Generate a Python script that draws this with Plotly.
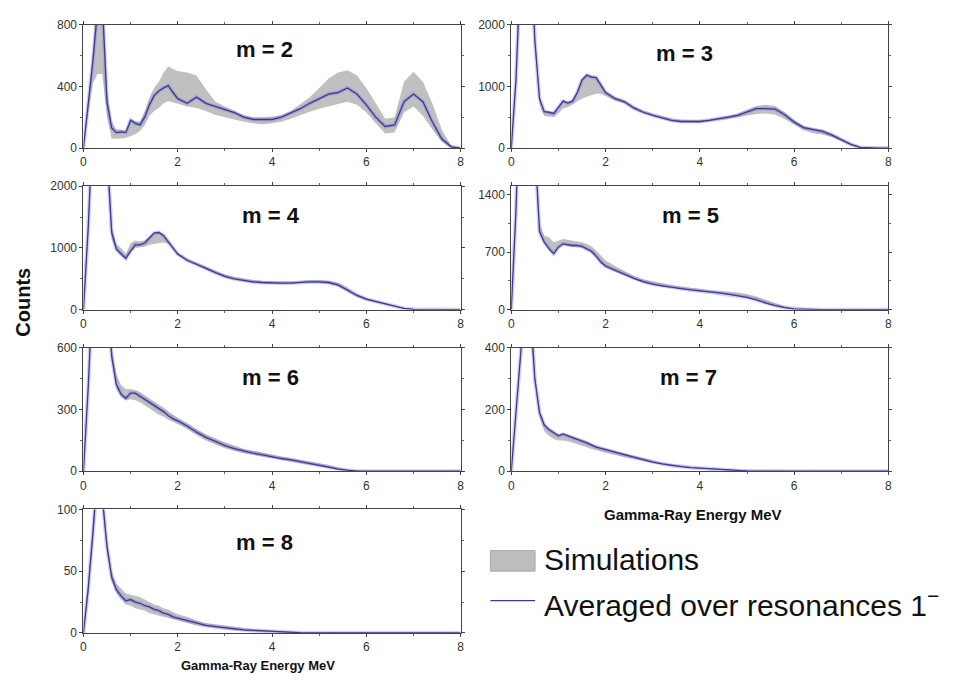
import plotly.graph_objects as go

# ---------------- data ----------------
energy = [0.0, 0.1, 0.2, 0.3, 0.4, 0.5, 0.6, 0.7, 0.8, 0.9, 1.0, 1.1, 1.2, 1.3, 1.4, 1.5, 1.6, 1.7, 1.8, 1.9, 2.0,
          2.2, 2.4, 2.6, 2.8, 3.0, 3.2, 3.4, 3.6, 3.8, 4.0, 4.2, 4.4, 4.6, 4.8, 5.0, 5.2, 5.4, 5.6, 5.8, 6.0,
          6.2, 6.4, 6.6, 6.8, 7.0, 7.2, 7.4, 7.6, 7.8, 8.0]

m2_avg = [0, 280, 560, 900, 950, 300, 130, 100, 105, 100, 180, 160, 150, 200, 280, 340, 370, 390, 405, 360, 320,
          290, 330, 290, 270, 250, 230, 200, 185, 185, 185, 200, 225, 255, 290, 320, 350, 360, 390, 350, 280,
          200, 140, 150, 300, 350, 300, 170, 60, 8, 0]
m2_lo = [0, 220, 420, 480, 480, 200, 60, 60, 62, 65, 75, 90, 110, 150, 210, 240, 260, 290, 305, 300, 290,
         270, 260, 240, 215, 200, 185, 170, 160, 155, 160, 170, 190, 210, 235, 255, 270, 285, 300, 280, 230,
         160, 95, 100, 230, 270, 210, 120, 40, 0, 0]
m2_hi = [0, 300, 620, 1100, 1100, 380, 170, 120, 120, 115, 190, 175, 170, 240, 330, 390, 430, 490, 530, 510, 500,
         490, 470, 380, 300, 270, 245, 215, 200, 200, 205, 215, 240, 285, 330, 390, 450, 490, 505, 470, 390,
         290, 190, 200, 430, 495, 430, 290, 120, 15, 0]

m3_avg = [0, 1100, 3000, 4000, 3500, 1750, 800, 590, 580, 560, 660, 760, 730, 760, 900, 1100, 1180, 1150, 1140, 1030, 900,
          800, 750, 650, 580, 530, 490, 450, 430, 430, 430, 450, 470, 500, 530, 580, 640, 640, 630, 540, 420,
          330, 300, 270, 210, 130, 60, 10, 0, 0, 0]
m3_lo = [0, 1000, 2800, 3800, 3300, 1650, 700, 520, 510, 500, 560, 640, 660, 700, 760, 800, 830, 860, 880, 880, 850,
         770, 720, 620, 560, 510, 470, 430, 410, 410, 410, 430, 450, 470, 490, 520, 550, 560, 540, 470, 380,
         290, 240, 220, 180, 110, 50, 5, 0, 0, 0]
m3_hi = [0, 1200, 3200, 4200, 3700, 1850, 850, 610, 600, 580, 680, 780, 750, 780, 920, 1120, 1200, 1180, 1160, 1060, 930,
         830, 780, 680, 610, 560, 520, 480, 460, 455, 450, 470, 490, 520, 560, 620, 680, 700, 680, 580, 460,
         360, 320, 300, 240, 160, 80, 20, 0, 0, 0]

m4_avg = [0, 1300, 3000, 4500, 4000, 2600, 1250, 980, 900, 830, 950, 1050, 1050, 1080, 1160, 1240, 1250, 1200, 1100, 1000, 900,
          800, 740, 670, 600, 540, 500, 470, 450, 440, 430, 430, 430, 445, 450, 450, 440, 400, 320, 230, 170,
          130, 90, 50, 20, 5, 0, 0, 0, 0, 0]
m4_lo = [0, 1200, 2900, 4400, 3900, 2500, 1150, 950, 870, 820, 930, 1000, 1010, 1020, 1050, 1070, 1080, 1090, 1070, 980, 880,
         780, 720, 650, 580, 520, 480, 450, 430, 420, 415, 415, 415, 430, 435, 430, 420, 380, 300, 210, 155,
         115, 80, 45, 15, 3, 0, 0, 0, 0, 0]
m4_hi = [0, 1400, 3100, 4600, 4100, 2700, 1350, 1060, 1000, 900, 1080, 1120, 1110, 1120, 1180, 1260, 1270, 1230, 1130, 1030, 930,
         830, 770, 700, 630, 570, 530, 500, 480, 465, 455, 455, 455, 470, 480, 480, 470, 440, 360, 260, 190,
         145, 100, 60, 25, 8, 2, 0, 0, 0, 0]

m5_avg = [0, 1200, 3000, 4000, 3500, 2000, 950, 820, 740, 680, 760, 800, 790, 780, 780, 770, 740, 710, 650, 580, 530,
          480, 430, 380, 340, 310, 290, 270, 255, 240, 230, 215, 205, 190, 170, 150, 120, 80, 50, 25, 10,
          4, 1, 0, 0, 0, 0, 0, 0, 0, 0]
m5_lo = [0, 1150, 2900, 3900, 3400, 1900, 930, 810, 730, 670, 750, 790, 770, 760, 760, 750, 720, 690, 630, 560, 510,
         460, 410, 365, 325, 300, 280, 260, 245, 230, 220, 205, 195, 180, 160, 140, 110, 75, 45, 20, 8,
         2, 0, 0, 0, 0, 0, 0, 0, 0, 0]
m5_hi = [0, 1250, 3100, 4100, 3600, 2100, 1050, 900, 880, 820, 840, 860, 850, 840, 830, 820, 800, 770, 720, 660, 600,
         530, 470, 410, 370, 345, 320, 300, 280, 265, 255, 240, 230, 220, 210, 190, 160, 120, 80, 40, 15,
         6, 2, 0, 0, 0, 0, 0, 0, 0, 0]

m6_avg = [0, 400, 900, 1300, 1200, 900, 560, 420, 375, 355, 380, 380, 365, 350, 335, 320, 305, 290, 270, 255, 245,
          220, 190, 165, 145, 125, 110, 98, 88, 80, 70, 62, 55, 47, 38, 28, 20, 10, 4, 1, 0,
          0, 0, 0, 0, 0, 0, 0, 0, 0, 0]
m6_lo = [0, 380, 880, 1280, 1180, 880, 540, 400, 360, 345, 350, 345, 335, 320, 305, 290, 275, 265, 250, 240, 230,
         205, 175, 150, 130, 112, 100, 88, 78, 70, 62, 55, 48, 40, 32, 22, 15, 7, 2, 0, 0,
         0, 0, 0, 0, 0, 0, 0, 0, 0, 0]
m6_hi = [0, 420, 920, 1320, 1220, 920, 600, 470, 420, 400, 400, 395, 385, 370, 355, 340, 325, 310, 290, 275, 260,
         235, 205, 180, 160, 140, 125, 110, 100, 90, 80, 72, 65, 57, 48, 38, 30, 18, 8, 3, 0,
         0, 0, 0, 0, 0, 0, 0, 0, 0, 0]

m7_avg = [0, 180, 380, 600, 550, 300, 190, 150, 135, 125, 115, 120, 115, 110, 105, 98, 92, 85, 78, 74, 70,
          60, 52, 45, 37, 30, 24, 19, 15, 12, 10, 8, 5, 4, 2, 1, 0, 0, 0, 0, 0,
          0, 0, 0, 0, 0, 0, 0, 0, 0, 0]
m7_lo = [0, 170, 370, 590, 540, 290, 175, 130, 115, 105, 100, 100, 97, 92, 88, 83, 78, 72, 67, 64, 60,
         53, 46, 40, 33, 26, 21, 16, 12, 10, 8, 6, 4, 2, 1, 0, 0, 0, 0, 0, 0,
         0, 0, 0, 0, 0, 0, 0, 0, 0, 0]
m7_hi = [0, 190, 390, 610, 560, 310, 200, 155, 140, 130, 120, 125, 120, 115, 110, 103, 97, 90, 83, 79, 75,
         65, 57, 50, 42, 35, 28, 23, 18, 15, 13, 10, 8, 6, 4, 2, 1, 0, 0, 0, 0,
         0, 0, 0, 0, 0, 0, 0, 0, 0, 0]

m8_avg = [0, 35, 80, 130, 110, 70, 45, 35, 30, 26, 27, 25, 24, 22, 21, 19, 18, 16, 15, 13, 12,
          10, 8, 6, 5, 4, 3, 2.5, 2, 1.5, 1, 0.5, 0.3, 0.1, 0, 0, 0, 0, 0, 0, 0,
          0, 0, 0, 0, 0, 0, 0, 0, 0, 0]
m8_lo = [0, 30, 75, 125, 105, 65, 42, 32, 27, 23, 22, 20, 19, 18, 16, 15, 14, 13, 12, 11, 10,
         8, 6, 5, 4, 3, 2, 1.5, 1, 0.8, 0.5, 0.2, 0, 0, 0, 0, 0, 0, 0, 0, 0,
         0, 0, 0, 0, 0, 0, 0, 0, 0, 0]
m8_hi = [0, 40, 90, 135, 115, 75, 50, 40, 36, 32, 31, 30, 29, 27, 25, 23, 22, 20, 19, 17, 15,
         13, 10, 8, 7, 5.5, 4.5, 3.5, 3, 2.5, 1.5, 1, 0.6, 0.3, 0, 0, 0, 0, 0, 0, 0,
         0, 0, 0, 0, 0, 0, 0, 0, 0, 0]

panel_labels = ["m = 2", "m = 3", "m = 4", "m = 5", "m = 6", "m = 7", "m = 8"]
y_max = [800, 2000, 2000, 1500, 600, 400, 100]
y_ticks = [[0, 400, 800], [0, 1000, 2000], [0, 1000, 2000], [0, 700, 1400], [0, 300, 600], [0, 200, 400], [0, 50, 100]]
x_ticks = [0, 2, 4, 6, 8]

series = [(m2_avg, m2_lo, m2_hi), (m3_avg, m3_lo, m3_hi), (m4_avg, m4_lo, m4_hi), (m5_avg, m5_lo, m5_hi),
          (m6_avg, m6_lo, m6_hi), (m7_avg, m7_lo, m7_hi), (m8_avg, m8_lo, m8_hi)]

legend_sim = "Simulations"
legend_avg = "Averaged over resonances 1<sup>−</sup>"
x_title = "Gamma-Ray Energy MeV"
y_title = "Counts"

# ---------------- layout geometry ----------------
W, H = 955, 682
LEFT = [81 / W, 461 / W]
RIGHT = [512 / W, 892 / W]
rows_px = [(18, 144), (183, 309), (348, 474), (513, 639)]
ROWS = [[1 - b / H, 1 - t / H] for t, b in rows_px]
cells = [(LEFT, ROWS[0]), (RIGHT, ROWS[0]), (LEFT, ROWS[1]), (RIGHT, ROWS[1]),
         (LEFT, ROWS[2]), (RIGHT, ROWS[2]), (LEFT, ROWS[3])]
title_pos = [(0.479, 0.80), (0.458, 0.77), (0.497, 0.76), (0.476, 0.76), (0.497, 0.76), (0.47, 0.76), (0.48, 0.73)]

BAND = "#c0c0c0"
LINE = "#3a3a94"
HALO = "rgba(120,120,225,0.35)"
FONT = "Liberation Sans, Arial, sans-serif"

fig = go.Figure()
annotations = []
for i, ((avg, lo, hi), (xd, yd)) in enumerate(zip(series, cells)):
    n = i + 1
    xa = "x" if n == 1 else f"x{n}"
    ya = "y" if n == 1 else f"y{n}"
    fig.add_trace(go.Scatter(x=energy + energy[::-1], y=hi + lo[::-1], fill="toself", fillcolor=BAND,
                             line=dict(width=0, color=BAND), mode="lines", xaxis=xa, yaxis=ya,
                             showlegend=False, hoverinfo="skip"))
    fig.add_trace(go.Scatter(x=energy, y=avg, mode="lines", line=dict(color=HALO, width=4),
                             xaxis=xa, yaxis=ya, showlegend=False, hoverinfo="skip"))
    fig.add_trace(go.Scatter(x=energy, y=avg, mode="lines", line=dict(color=LINE, width=1.3),
                             xaxis=xa, yaxis=ya, showlegend=False))
    common = dict(showline=True, linecolor="#444", linewidth=1, mirror="ticks", ticks="outside",
                  ticklen=3, tickwidth=1, tickcolor="#444", showgrid=False, zeroline=False,
                  tickfont=dict(family=FONT, size=12, color="#333"))
    xkey = "xaxis" if n == 1 else f"xaxis{n}"
    ykey = "yaxis" if n == 1 else f"yaxis{n}"
    fig.layout[xkey] = dict(domain=xd, anchor=ya, range=[0, 8], tickvals=x_ticks,
                            minor=dict(ticks="outside", ticklen=2, dtick=1, tickcolor="#666"), **common)
    fig.layout[ykey] = dict(domain=yd, anchor=xa, range=[0, y_max[i]], tickvals=y_ticks[i],
                            minor=dict(ticks="outside", ticklen=2, dtick=y_ticks[i][1] / 2, tickcolor="#666"),
                            **common)
    annotations.append(dict(text=f"<b>{panel_labels[i]}</b>", x=title_pos[i][0], y=title_pos[i][1],
                            xref=f"{xa} domain", yref=f"{ya} domain", showarrow=False,
                            font=dict(family=FONT, size=22, color="#111"), xanchor="center", yanchor="middle"))

# axis titles
annotations.append(dict(text=f"<b>{y_title}</b>", x=20 / W, y=1 - 301 / H, xref="paper", yref="paper",
                        textangle=-90, showarrow=False, xanchor="center", yanchor="middle",
                        font=dict(family=FONT, size=20, color="#111")))
annotations.append(dict(text=f"<b>{x_title}</b>", x=695 / W, y=1 - 518 / H, xref="paper", yref="paper",
                        showarrow=False, xanchor="center", yanchor="middle",
                        font=dict(family=FONT, size=15, color="#111")))
annotations.append(dict(text=f"<b>{x_title}</b>", x=257 / W, y=1 - 672 / H, xref="paper", yref="paper",
                        showarrow=False, xanchor="center", yanchor="middle",
                        font=dict(family=FONT, size=13, color="#111")))
# legend entries
annotations.append(dict(text=legend_sim, x=543 / W, y=1 - 564 / H, xref="paper", yref="paper",
                        xanchor="left", yanchor="middle", showarrow=False,
                        font=dict(family=FONT, size=30, color="#111")))
annotations.append(dict(text=legend_avg, x=543 / W, y=1 - 609 / H, xref="paper", yref="paper",
                        xanchor="left", yanchor="middle", showarrow=False,
                        font=dict(family=FONT, size=30, color="#111")))

shapes = [
    dict(type="rect", xref="paper", yref="paper", x0=491 / W, x1=536 / W, y0=1 - 576 / H, y1=1 - 555 / H,
         fillcolor="#bdbdbd", line=dict(color="#aaa", width=1)),
    dict(type="line", xref="paper", yref="paper", x0=491 / W, x1=536 / W, y0=1 - 606 / H, y1=1 - 606 / H,
         line=dict(color=LINE, width=1.3)),
]

fig.update_layout(width=W, height=H, margin=dict(l=0, r=0, t=0, b=0), paper_bgcolor="white",
                  plot_bgcolor="white", annotations=annotations, shapes=shapes, showlegend=False)
fig.write_html("out.html", config={"displayModeBar": False},
               post_script="document.body.style.margin='0';")
